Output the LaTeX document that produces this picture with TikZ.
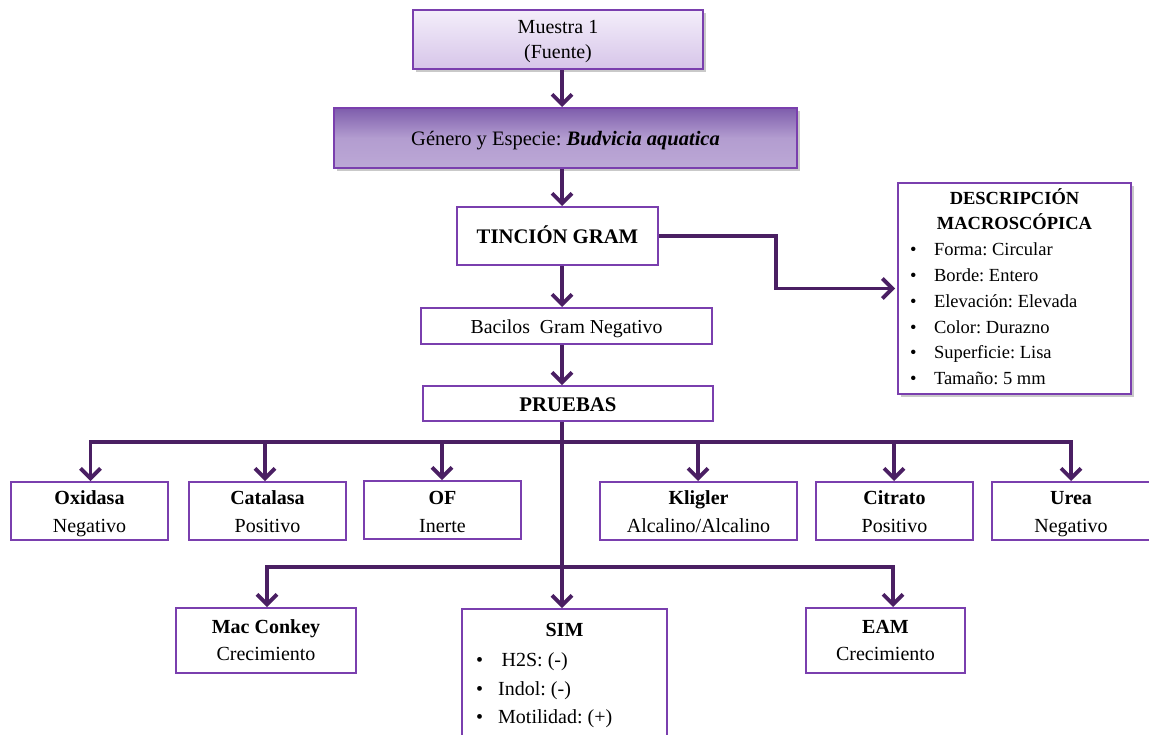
\documentclass[tikz,border=0pt]{standalone}
\usepackage{fontspec}
\setmainfont{Liberation Serif}
\usetikzlibrary{arrows.meta,shadows,calc}
\definecolor{bord}{HTML}{7A3FAE}
\definecolor{lnc}{HTML}{4A1F63}
\definecolor{mtop}{HTML}{F4EEFA}
\definecolor{mbot}{HTML}{D6C5E9}
\definecolor{gtop}{HTML}{7E5DAC}
\definecolor{gbot}{HTML}{BCA8D6}
% height, width, first-baseline distance from top, content
\newcommand{\tb}[4]{\parbox[c][#1pt][t]{#2pt}{\centering\rule{0pt}{#3pt}#4\par}}
\tikzset{
  box/.style={draw=bord,line width=2pt,fill=white,inner sep=0pt,align=center,font=\fontsize{20}{28}\selectfont\frenchspacing},
  txt/.style={inner sep=0pt,font=\fontsize{20}{28}\selectfont\frenchspacing},
  ln/.style={draw=lnc,line width=3.8pt},
  arr/.style={ln,-{Straight Barb[length=10pt,width=20pt]}},
  shd/.style={drop shadow={shadow xshift=3pt,shadow yshift=-3pt,opacity=0.35,fill=black!60}},
}
\begin{document}
\begin{tikzpicture}[x=1pt,y=-1pt]
\clip (0,0) rectangle (1149,734);
\fill[white] (0,0) rectangle (1149,734);
% top boxes
\node[box,shd,top color=mtop,bottom color=mbot,minimum width=290,minimum height=59,font=\fontsize{20}{25}\selectfont] (mue) at (558,39.5) {\tb{59}{290}{23.5}{Muestra 1\\(Fuente)}};
\node[box,shd,top color=gtop,bottom color=gbot,middle color=gbot!85!gtop,minimum width=463,minimum height=60,font=\fontsize{20.5}{24}\selectfont\frenchspacing] (gen) at (565.5,138) {\tb{60}{463}{37.5}{Género y Especie: \textbf{\textit{Budvicia aquatica}}}};
\node[box,minimum width=201,minimum height=58,font=\fontsize{20.7}{24}\selectfont\bfseries] (tin) at (557.5,236) {\tb{58}{201}{36.5}{TINCIÓN GRAM}};
\node[box,minimum width=291,minimum height=36,font=\fontsize{19.8}{24}\selectfont] (bac) at (566.5,326) {\tb{36}{291}{25}{Bacilos\ \ Gram Negativo}};
\node[box,minimum width=290,minimum height=35,font=\fontsize{20.8}{24}\selectfont\bfseries] (pru) at (568,403.5) {\tb{35}{290}{25}{PRUEBAS}};
% description
\node[box,shd,minimum width=233,minimum height=211,anchor=north west] (desc) at (897,182) {%
\parbox[c][211pt][t]{233pt}{\fontsize{18.5}{25.8}\selectfont\frenchspacing
\centering\rule{0pt}{21pt}\textbf{DESCRIPCIÓN}\\\textbf{MACROSCÓPICA}\par
\raggedright
\hspace*{12pt}\makebox[24pt][l]{\textbullet}Forma: Circular\\
\hspace*{12pt}\makebox[24pt][l]{\textbullet}Borde: Entero\\
\hspace*{12pt}\makebox[24pt][l]{\textbullet}Elevación: Elevada\\
\hspace*{12pt}\makebox[24pt][l]{\textbullet}Color: Durazno\\
\hspace*{12pt}\makebox[24pt][l]{\textbullet}Superficie: Lisa\\
\hspace*{12pt}\makebox[24pt][l]{\textbullet}Tamaño: 5 mm\par}};
% test row
\node[box,minimum width=157,minimum height=58] (oxi) at (89.5,511) {\tb{58}{157}{22}{\textbf{Oxidasa}\\Negativo}};
\node[box,minimum width=157,minimum height=58] (cat) at (267.5,511) {\tb{58}{157}{22}{\textbf{Catalasa}\\Positivo}};
\node[box,minimum width=157,minimum height=58] (of) at (442.5,510) {\tb{58}{157}{23}{\textbf{OF}\\Inerte}};
\node[box,minimum width=197,minimum height=58] (kli) at (698.5,511) {\tb{58}{197}{22}{\textbf{Kligler}\\Alcalino/Alcalino}};
\node[box,minimum width=157,minimum height=58] (cit) at (894.5,511) {\tb{58}{157}{22}{\textbf{Citrato}\\Positivo}};
\node[box,minimum width=158,minimum height=58] (ure) at (1071,511) {\tb{58}{158}{22}{\textbf{Urea}\\Negativo}};
% bottom row
\node[box,minimum width=180,minimum height=65,font=\fontsize{20}{27.5}\selectfont] (mac) at (266,640.5) {\tb{65}{180}{25}{\textbf{Mac Conkey}\\Crecimiento}};
\node[box,minimum width=159,minimum height=65,font=\fontsize{20}{27.5}\selectfont] (eam) at (885.5,640.5) {\tb{65}{159}{25}{\textbf{EAM}\\Crecimiento}};
\node[box,minimum width=205,minimum height=140,anchor=north] (sim) at (564.5,608) {};
\node[txt,anchor=base,font=\fontsize{20}{28}\selectfont\bfseries] (simt) at (564.5,636.5) {SIM};
\node[txt,anchor=base west] (sim1) at (476,666.5) {\makebox[25.5pt][l]{\textbullet}H2S: (-)};
\node[txt,anchor=base west] (sim2) at (476,695) {\makebox[22pt][l]{\textbullet}Indol: (-)};
\node[txt,anchor=base west] (sim3) at (476,723.3) {\makebox[22pt][l]{\textbullet}Motilidad: (+)};
% coordinates
\coordinate (b1) at (562,442);
\coordinate (b2) at (562,567);
% connectors
\draw[arr] (mue.south -| 562,0) -- (gen.north -| 562,0);
\draw[arr] (gen.south -| 562,0) -- (tin.north -| 562,0);
\draw[arr] (tin.south -| 562,0) -- (bac.north -| 562,0);
\draw[arr] (bac.south -| 562,0) -- (pru.north -| 562,0);
\draw[arr] (tin.east) -- ++(117,0) |- ([xshift=-2pt]desc.west);
\draw[arr] (pru.south -| 562,0) -- (sim.north -| 562,0);
\draw[arr] (b1) -| ([xshift=1pt]oxi.north);
\draw[arr] (b1) -| ([xshift=-2.5pt]cat.north);
\draw[arr] (b1) -| ([xshift=-0.5pt]of.north);
\draw[arr] (b1) -| ([xshift=-0.5pt]kli.north);
\draw[arr] (b1) -| ([xshift=-0.5pt]cit.north);
\draw[arr] (b1) -| (ure.north);
\draw[arr] (b2) -| ([xshift=1pt]mac.north);
\draw[arr] (b2) -| ([xshift=7.5pt]eam.north);
\end{tikzpicture}
\end{document}
